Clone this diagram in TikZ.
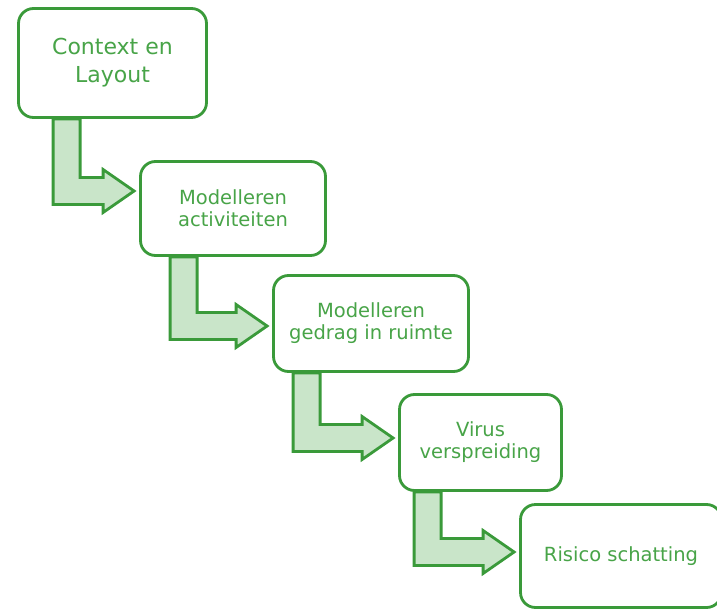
\documentclass[tikz,border=0pt]{standalone}
\usepackage{fontspec}
\setmainfont{DejaVu Sans}
\usepackage{tikz}
\usetikzlibrary{calc}
\definecolor{stagegreen}{RGB}{58,154,58}
\definecolor{labelgreen}{RGB}{72,164,72}
\definecolor{flowfill}{RGB}{201,229,201}
% bent block arrow: from, to, stem offset, tip shift
\newcommand{\bentflow}[4]{%
  \draw[flow] let \p1 = (#1.south), \p2 = ($(#2.west)+(-5,#4)$) in
    (\x2-#3pt,\y1) -- (\x2-#3pt+27pt,\y1) -- (\x2-#3pt+27pt,\y2+13.5pt)
    -- (\x2-31pt,\y2+13.5pt) -- (\x2-31pt,\y2+21.5pt) -- (\p2)
    -- (\x2-31pt,\y2-21.5pt) -- (\x2-31pt,\y2-13.5pt) -- (\x2-#3pt,\y2-13.5pt) -- cycle;}

\begin{document}
\begin{tikzpicture}[x=1pt,y=-1pt,
      stage/.style={
        rectangle,
        rounded corners=15pt,
        draw=stagegreen,
        line width=2.8pt,
        fill=white,
        inner sep=0pt,
        align=center,
        text=labelgreen,
        font=\fontsize{19.5}{22}\selectfont
      },
      flow/.style={
        draw=stagegreen,
        line width=2.8pt,
        fill=flowfill,
        line join=miter
      }
    ]
    \useasboundingbox (0,0) rectangle (717,610);
    \node[stage,minimum width=188pt,minimum height=109pt,
      font=\fontsize{22}{28}\selectfont] at (112.5,63) (ctx) {Context en\\Layout};
    \node[stage,minimum width=185pt,minimum height=94pt] at (233,208.5) (act) {Modelleren\\activiteiten};
    \node[stage,minimum width=195pt,minimum height=96pt] at (371,323.5) (beh) {Modelleren\\gedrag in ruimte};
    \node[stage,minimum width=162pt,minimum height=96pt] at (480.5,442.5) (vir) {Virus\\verspreiding};
    \node[stage,minimum width=201pt,minimum height=103pt] at (621,556) (risk) {Risico schatting};
    \bentflow{ctx}{act}{81}{-17.5}
    \bentflow{act}{beh}{97}{2.5}
    \bentflow{beh}{vir}{100}{-4.5}
    \bentflow{vir}{risk}{100}{-4}
  \end{tikzpicture}
\end{document}
